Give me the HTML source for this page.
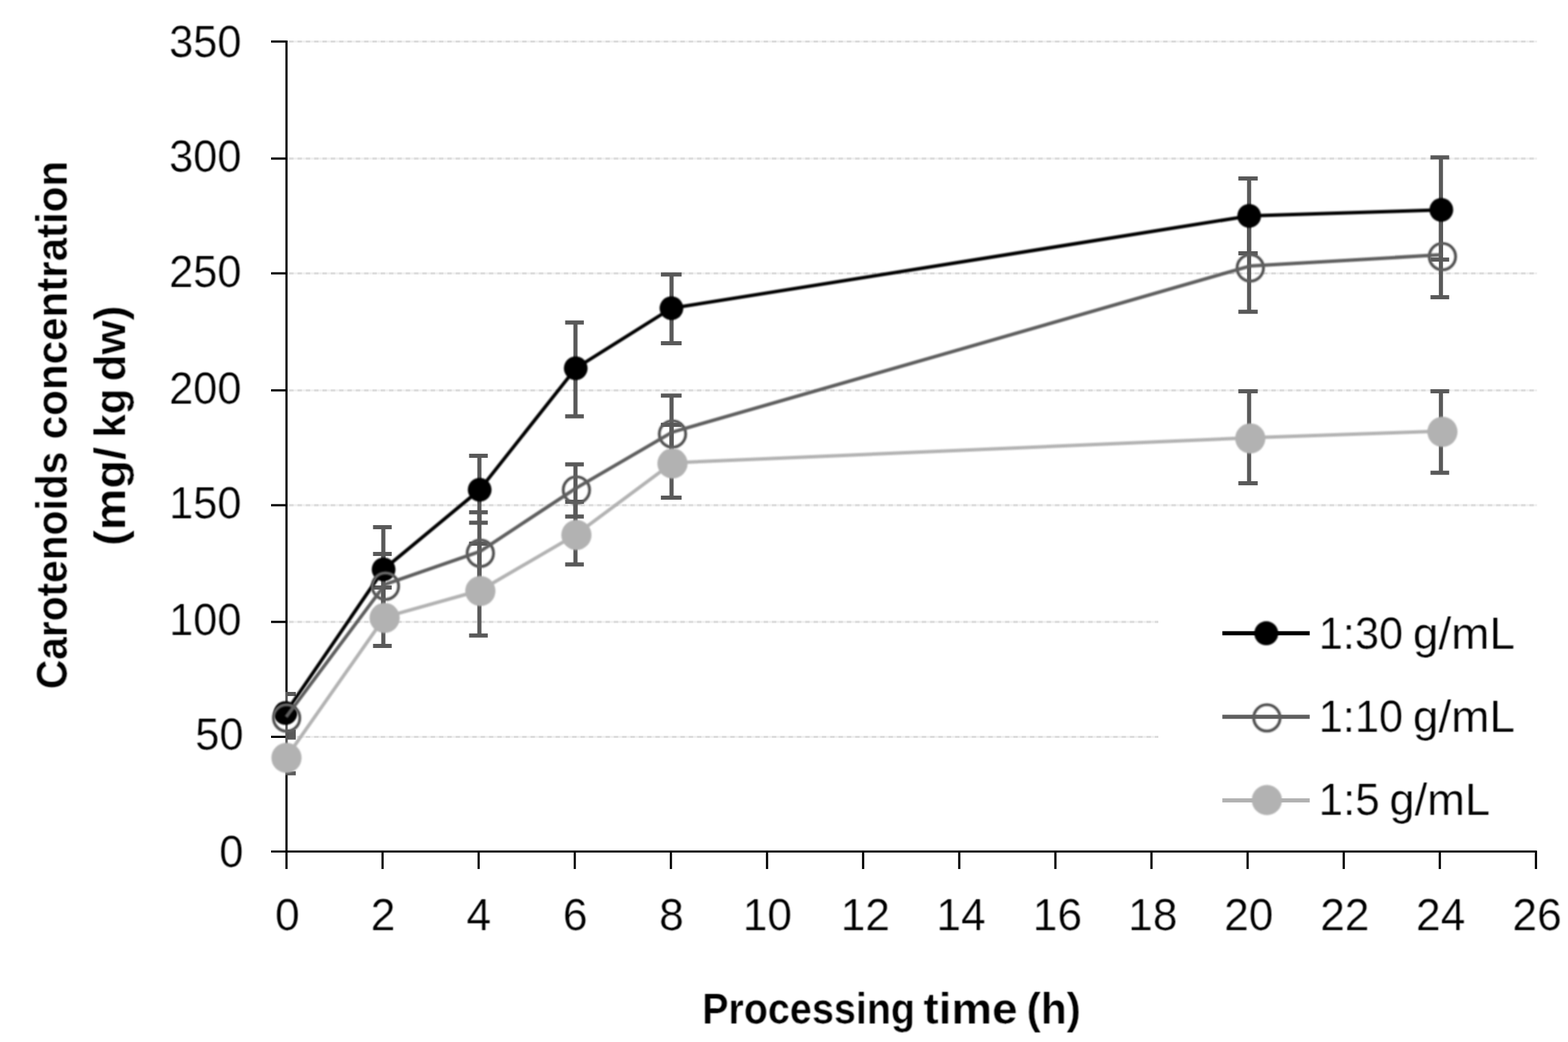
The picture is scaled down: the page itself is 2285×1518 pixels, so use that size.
<!DOCTYPE html>
<html lang="en">
<head>
<meta charset="utf-8">
<title>Carotenoids concentration vs processing time</title>
<style>
html, body { margin: 0; padding: 0; background: #ffffff; }
body { width: 2285px; height: 1518px; overflow: hidden; font-family: "Liberation Sans", sans-serif; }
svg { display: block; }
#chart { width: 2285px; height: 1518px; }
</style>
</head>
<body>
<div id="chart">
<svg width="2285" height="1518" viewBox="0 0 2285 1518">
<rect x="0" y="0" width="2285" height="1518" fill="#ffffff"/>
<defs><filter id="soft" filterUnits="userSpaceOnUse" x="0" y="0" width="2285" height="1518"><feGaussianBlur stdDeviation="1"/></filter><filter id="softtext" x="-5%" y="-10%" width="110%" height="120%"><feConvolveMatrix order="3" kernelMatrix="1 2 1 2 4 2 1 2 1" divisor="16" edgeMode="none" preserveAlpha="false"/></filter></defs>
<g id="grid" fill="none">
<line x1="419.0" y1="60.5" x2="2240.0" y2="60.5" stroke="#f0f0f0" stroke-width="3.0"/>
<line x1="421.5" y1="60.5" x2="2240.0" y2="60.5" stroke="#dbdbdb" stroke-width="3.0" stroke-dasharray="6.2 5.93"/>
<line x1="419.0" y1="231.0" x2="2240.0" y2="231.0" stroke="#f0f0f0" stroke-width="3.0"/>
<line x1="421.5" y1="231.0" x2="2240.0" y2="231.0" stroke="#dbdbdb" stroke-width="3.0" stroke-dasharray="6.2 5.93"/>
<line x1="419.0" y1="398.2" x2="2240.0" y2="398.2" stroke="#f0f0f0" stroke-width="3.0"/>
<line x1="421.5" y1="398.2" x2="2240.0" y2="398.2" stroke="#dbdbdb" stroke-width="3.0" stroke-dasharray="6.2 5.93"/>
<line x1="419.0" y1="568.7" x2="2240.0" y2="568.7" stroke="#f0f0f0" stroke-width="3.0"/>
<line x1="421.5" y1="568.7" x2="2240.0" y2="568.7" stroke="#dbdbdb" stroke-width="3.0" stroke-dasharray="6.2 5.93"/>
<line x1="419.0" y1="736.0" x2="2240.0" y2="736.0" stroke="#f0f0f0" stroke-width="3.0"/>
<line x1="421.5" y1="736.0" x2="2240.0" y2="736.0" stroke="#dbdbdb" stroke-width="3.0" stroke-dasharray="6.2 5.93"/>
<line x1="419.0" y1="906.0" x2="2240.0" y2="906.0" stroke="#f0f0f0" stroke-width="3.0"/>
<line x1="421.5" y1="906.0" x2="2240.0" y2="906.0" stroke="#dbdbdb" stroke-width="3.0" stroke-dasharray="6.2 5.93"/>
<line x1="419.0" y1="1073.4" x2="2240.0" y2="1073.4" stroke="#f0f0f0" stroke-width="3.0"/>
<line x1="421.5" y1="1073.4" x2="2240.0" y2="1073.4" stroke="#dbdbdb" stroke-width="3.0" stroke-dasharray="6.2 5.93"/>
</g>
<clipPath id="plotclip"><rect x="416" y="0" width="1900" height="1300"/></clipPath>
<g id="errorbars" fill="#595959" clip-path="url(#plotclip)">
<rect x="416" y="1008" width="3.1" height="121.5"/>
<rect x="416" y="1008" width="15" height="6"/>
<rect x="416" y="1063" width="15" height="14.5"/>
<rect x="416" y="1123.5" width="15" height="6"/>
<rect x="555.6" y="768.0" width="6.0" height="115.2"/>
<rect x="543.6" y="765.0" width="27.2" height="6.0"/>
<rect x="555.6" y="807.0" width="6.0" height="98.4"/>
<rect x="543.6" y="804.0" width="27.2" height="6.0"/>
<rect x="555.6" y="855.9" width="6.0" height="85.1"/>
<rect x="543.6" y="852.9" width="27.2" height="6.0"/>
<rect x="543.6" y="938.0" width="27.2" height="6.0"/>
<rect x="695.6" y="664.0" width="6.0" height="97.5"/>
<rect x="683.6" y="661.0" width="27.2" height="6.0"/>
<rect x="683.6" y="758.5" width="27.2" height="6.0"/>
<rect x="695.6" y="746.3" width="6.0" height="118.7"/>
<rect x="683.6" y="743.3" width="27.2" height="6.0"/>
<rect x="695.6" y="792.0" width="6.0" height="133.8"/>
<rect x="683.6" y="789.0" width="27.2" height="6.0"/>
<rect x="683.6" y="922.8" width="27.2" height="6.0"/>
<rect x="835.6" y="469.8" width="6.0" height="136.7"/>
<rect x="823.6" y="466.8" width="27.2" height="6.0"/>
<rect x="823.6" y="603.5" width="27.2" height="6.0"/>
<rect x="835.6" y="676.5" width="6.0" height="76.0"/>
<rect x="823.6" y="673.5" width="27.2" height="6.0"/>
<rect x="823.6" y="749.5" width="27.2" height="6.0"/>
<rect x="835.6" y="731.0" width="6.0" height="91.3"/>
<rect x="823.6" y="728.0" width="27.2" height="6.0"/>
<rect x="823.6" y="819.3" width="27.2" height="6.0"/>
<rect x="975.6" y="399.8" width="6.0" height="100.2"/>
<rect x="963.1" y="396.8" width="30.2" height="6.0"/>
<rect x="963.1" y="497.0" width="30.2" height="6.0"/>
<rect x="975.6" y="576.3" width="6.0" height="112.0"/>
<rect x="963.1" y="573.3" width="30.2" height="6.0"/>
<rect x="975.6" y="618.9" width="6.0" height="106.1"/>
<rect x="963.1" y="615.9" width="30.2" height="6.0"/>
<rect x="963.1" y="722.0" width="30.2" height="6.0"/>
<rect x="1817.3" y="260.0" width="6.0" height="109.0"/>
<rect x="1804.6" y="257.0" width="28.2" height="6.0"/>
<rect x="1804.6" y="366.0" width="28.2" height="6.0"/>
<rect x="1817.3" y="325.8" width="6.0" height="128.4"/>
<rect x="1804.6" y="451.2" width="28.2" height="6.0"/>
<rect x="1817.3" y="570.0" width="6.0" height="134.0"/>
<rect x="1804.6" y="567.0" width="28.2" height="6.0"/>
<rect x="1804.6" y="701.0" width="28.2" height="6.0"/>
<rect x="2096.8" y="229.3" width="6.0" height="148.9"/>
<rect x="2084.6" y="226.3" width="27.2" height="6.0"/>
<rect x="2084.6" y="375.2" width="27.2" height="6.0"/>
<rect x="2096.8" y="314.4" width="6.0" height="118.6"/>
<rect x="2084.6" y="430.0" width="27.2" height="6.0"/>
<rect x="2096.8" y="570.0" width="6.0" height="118.7"/>
<rect x="2084.6" y="567.0" width="27.2" height="6.0"/>
<rect x="2084.6" y="685.7" width="27.2" height="6.0"/>
</g>
<g id="axes" stroke="#000000" stroke-width="3.2" fill="none">
<line x1="417.5" y1="59" x2="417.5" y2="1266"/>
<line x1="395" y1="1240.5" x2="2239.7" y2="1240.5"/>
<line x1="395" y1="60.5" x2="417.5" y2="60.5"/>
<line x1="395" y1="231.0" x2="417.5" y2="231.0"/>
<line x1="395" y1="398.2" x2="417.5" y2="398.2"/>
<line x1="395" y1="568.7" x2="417.5" y2="568.7"/>
<line x1="395" y1="736.0" x2="417.5" y2="736.0"/>
<line x1="395" y1="906.0" x2="417.5" y2="906.0"/>
<line x1="395" y1="1073.4" x2="417.5" y2="1073.4"/>
<line x1="557.5" y1="1240.5" x2="557.5" y2="1266"/>
<line x1="697.5" y1="1240.5" x2="697.5" y2="1266"/>
<line x1="837.6" y1="1240.5" x2="837.6" y2="1266"/>
<line x1="977.7" y1="1240.5" x2="977.7" y2="1266"/>
<line x1="1117.8" y1="1240.5" x2="1117.8" y2="1266"/>
<line x1="1257.8" y1="1240.5" x2="1257.8" y2="1266"/>
<line x1="1397.9" y1="1240.5" x2="1397.9" y2="1266"/>
<line x1="1538.0" y1="1240.5" x2="1538.0" y2="1266"/>
<line x1="1678.0" y1="1240.5" x2="1678.0" y2="1266"/>
<line x1="1818.1" y1="1240.5" x2="1818.1" y2="1266"/>
<line x1="1958.2" y1="1240.5" x2="1958.2" y2="1266"/>
<line x1="2098.2" y1="1240.5" x2="2098.2" y2="1266"/>
<line x1="2238.3" y1="1240.5" x2="2238.3" y2="1266"/>
</g>
<g fill="#595959"><rect x="415.9" y="1008" width="3.2" height="121.5"/></g>
<g id="s1" filter="url(#soft)"><polyline points="416.0,1038.8 559.0,829.5 699.0,713.5 839.0,536.5 978.5,449.0 1820.4,314.6 2100.4,305.7" fill="none" stroke="#000000" stroke-width="5.0" stroke-linejoin="round"/>
<circle cx="416.0" cy="1038.8" r="17.3" fill="#000000"/>
<circle cx="559.0" cy="829.5" r="17.3" fill="#000000"/>
<circle cx="699.0" cy="713.5" r="17.3" fill="#000000"/>
<circle cx="839.0" cy="536.5" r="17.3" fill="#000000"/>
<circle cx="978.5" cy="449.0" r="17.3" fill="#000000"/>
<circle cx="1820.4" cy="314.6" r="17.3" fill="#000000"/>
<circle cx="2100.4" cy="305.7" r="17.3" fill="#000000"/>
</g>
<g id="s2" filter="url(#soft)"><polyline points="417.0,1044.5 561.2,851.3 699.5,803.3 839.5,711.1 979.5,629.6 1821.5,387.6 2101.5,371.1" fill="none" stroke="#5f5f5f" stroke-width="5.0" stroke-linejoin="round"/>
<circle cx="417.7" cy="1046.0" r="19.2" fill="none" stroke="#5f5f5f" stroke-width="4.4"/>
<circle cx="561.7" cy="854.0" r="19.2" fill="none" stroke="#5f5f5f" stroke-width="4.4"/>
<circle cx="700.0" cy="806.0" r="19.2" fill="none" stroke="#5f5f5f" stroke-width="4.4"/>
<circle cx="840.0" cy="713.8" r="19.2" fill="none" stroke="#5f5f5f" stroke-width="4.4"/>
<circle cx="980.0" cy="632.3" r="19.2" fill="none" stroke="#5f5f5f" stroke-width="4.4"/>
<circle cx="1822.0" cy="390.3" r="19.2" fill="none" stroke="#5f5f5f" stroke-width="4.4"/>
<circle cx="2102.0" cy="373.8" r="19.2" fill="none" stroke="#5f5f5f" stroke-width="4.4"/>
</g>
<g id="s2core" fill="none" stroke="#5f5f5f" stroke-width="2.0">
<circle cx="417.7" cy="1046.0" r="19.2"/>
<circle cx="561.7" cy="854.0" r="19.2"/>
<circle cx="700.0" cy="806.0" r="19.2"/>
<circle cx="840.0" cy="713.8" r="19.2"/>
<circle cx="980.0" cy="632.3" r="19.2"/>
<circle cx="1822.0" cy="390.3" r="19.2"/>
<circle cx="2102.0" cy="373.8" r="19.2"/>
</g>
<g id="s3" filter="url(#soft)"><polyline points="417.5,1103.0 560.5,899.2 700.0,860.0 840.0,778.3 980.0,674.2 1822.0,637.7 2102.0,628.1" fill="none" stroke="#b2b2b2" stroke-width="5.0" stroke-linejoin="round"/>
<circle cx="417.5" cy="1104.0" r="22.0" fill="#b2b2b2"/>
<circle cx="560.5" cy="900.2" r="22.0" fill="#b2b2b2"/>
<circle cx="700.0" cy="861.0" r="22.0" fill="#b2b2b2"/>
<circle cx="840.0" cy="779.3" r="22.0" fill="#b2b2b2"/>
<circle cx="980.0" cy="675.2" r="22.0" fill="#b2b2b2"/>
<circle cx="1822.0" cy="638.7" r="22.0" fill="#b2b2b2"/>
<circle cx="2102.0" cy="629.1" r="22.0" fill="#b2b2b2"/>
</g>
<g id="legend">
<rect x="1688" y="860" width="597" height="370" fill="#ffffff"/>
<line x1="1781.3" y1="922.6" x2="1908.6" y2="922.6" stroke="#000000" stroke-width="6"/>
<circle filter="url(#soft)" cx="1845.3" cy="922.6" r="17.5" fill="#000000"/>
<line x1="1781.3" y1="1044.3" x2="1908.6" y2="1044.3" stroke="#5f5f5f" stroke-width="6"/>
<circle filter="url(#soft)" cx="1846.2" cy="1045.8" r="19.2" fill="none" stroke="#5f5f5f" stroke-width="4.4"/>
<circle cx="1846.2" cy="1045.8" r="19.2" fill="none" stroke="#5f5f5f" stroke-width="2.0"/>
<line x1="1781.3" y1="1166.0" x2="1908.6" y2="1166.0" stroke="#b2b2b2" stroke-width="6"/>
<circle filter="url(#soft)" cx="1846.2" cy="1165.5" r="22.0" fill="#b2b2b2"/>
</g>
<g id="labels" font-family='"Liberation Sans", sans-serif' fill="#000000">
<text y="82.70" font-size="64.38" stroke="#ffffff" stroke-width="0.20" filter="url(#softtext)"><tspan x="246.41" textLength="105.48" lengthAdjust="spacingAndGlyphs">350</tspan></text>
<text y="250.00" font-size="64.38" stroke="#ffffff" stroke-width="0.20" filter="url(#softtext)"><tspan x="246.41" textLength="105.48" lengthAdjust="spacingAndGlyphs">300</tspan></text>
<text y="417.50" font-size="64.38" stroke="#ffffff" stroke-width="0.20" filter="url(#softtext)"><tspan x="246.40" textLength="105.48" lengthAdjust="spacingAndGlyphs">250</tspan></text>
<text y="587.50" font-size="64.38" stroke="#ffffff" stroke-width="0.20" filter="url(#softtext)"><tspan x="246.40" textLength="105.48" lengthAdjust="spacingAndGlyphs">200</tspan></text>
<text y="755.20" font-size="64.38" stroke="#ffffff" stroke-width="0.20" filter="url(#softtext)"><tspan x="246.40" textLength="105.48" lengthAdjust="spacingAndGlyphs">150</tspan></text>
<text y="925.20" font-size="64.38" stroke="#ffffff" stroke-width="0.20" filter="url(#softtext)"><tspan x="246.40" textLength="105.48" lengthAdjust="spacingAndGlyphs">100</tspan></text>
<text y="1092.40" font-size="64.38" stroke="#ffffff" stroke-width="0.20" filter="url(#softtext)"><tspan x="284.49" textLength="70.39" lengthAdjust="spacingAndGlyphs">50</tspan></text>
<text y="1262.90" font-size="64.38" stroke="#ffffff" stroke-width="0.20" filter="url(#softtext)"><tspan x="319.58" textLength="35.32" lengthAdjust="spacingAndGlyphs">0</tspan></text>
<text y="1354.70" font-size="64.38" stroke="#ffffff" stroke-width="0.20" filter="url(#softtext)"><tspan x="400.82" textLength="36.04" lengthAdjust="spacingAndGlyphs">0</tspan></text>
<text y="1354.70" font-size="64.38" stroke="#ffffff" stroke-width="0.20" filter="url(#softtext)"><tspan x="540.35" textLength="36.05" lengthAdjust="spacingAndGlyphs">2</tspan></text>
<text y="1354.70" font-size="64.38" stroke="#ffffff" stroke-width="0.20" filter="url(#softtext)"><tspan x="679.69" textLength="36.02" lengthAdjust="spacingAndGlyphs">4</tspan></text>
<text y="1354.70" font-size="64.38" stroke="#ffffff" stroke-width="0.20" filter="url(#softtext)"><tspan x="820.19" textLength="36.05" lengthAdjust="spacingAndGlyphs">6</tspan></text>
<text y="1354.70" font-size="64.38" stroke="#ffffff" stroke-width="0.20" filter="url(#softtext)"><tspan x="960.52" textLength="36.04" lengthAdjust="spacingAndGlyphs">8</tspan></text>
<text y="1354.70" font-size="64.38" stroke="#ffffff" stroke-width="0.20" filter="url(#softtext)"><tspan x="1082.43" textLength="71.83" lengthAdjust="spacingAndGlyphs">10</tspan></text>
<text y="1354.70" font-size="64.38" stroke="#ffffff" stroke-width="0.20" filter="url(#softtext)"><tspan x="1225.15" textLength="71.84" lengthAdjust="spacingAndGlyphs">12</tspan></text>
<text y="1354.70" font-size="64.38" stroke="#ffffff" stroke-width="0.20" filter="url(#softtext)"><tspan x="1364.51" textLength="71.83" lengthAdjust="spacingAndGlyphs">14</tspan></text>
<text y="1354.70" font-size="64.38" stroke="#ffffff" stroke-width="0.20" filter="url(#softtext)"><tspan x="1504.99" textLength="71.84" lengthAdjust="spacingAndGlyphs">16</tspan></text>
<text y="1354.70" font-size="64.38" stroke="#ffffff" stroke-width="0.20" filter="url(#softtext)"><tspan x="1643.99" textLength="71.84" lengthAdjust="spacingAndGlyphs">18</tspan></text>
<text y="1354.70" font-size="64.38" stroke="#ffffff" stroke-width="0.20" filter="url(#softtext)"><tspan x="1783.94" textLength="71.83" lengthAdjust="spacingAndGlyphs">20</tspan></text>
<text y="1354.70" font-size="64.38" stroke="#ffffff" stroke-width="0.20" filter="url(#softtext)"><tspan x="1923.96" textLength="71.83" lengthAdjust="spacingAndGlyphs">22</tspan></text>
<text y="1354.70" font-size="64.38" stroke="#ffffff" stroke-width="0.20" filter="url(#softtext)"><tspan x="2063.52" textLength="71.83" lengthAdjust="spacingAndGlyphs">24</tspan></text>
<text y="1354.70" font-size="64.38" stroke="#ffffff" stroke-width="0.20" filter="url(#softtext)"><tspan x="2204.00" textLength="71.83" lengthAdjust="spacingAndGlyphs">26</tspan></text>
<text y="944.50" font-size="64.38" stroke="#ffffff" stroke-width="0.20" filter="url(#softtext)"><tspan x="1921.66" textLength="123.13" lengthAdjust="spacingAndGlyphs">1:30</tspan> <tspan x="2058.92" textLength="148.97" lengthAdjust="spacingAndGlyphs">g/mL</tspan></text>
<text y="1065.70" font-size="64.38" stroke="#ffffff" stroke-width="0.20" filter="url(#softtext)"><tspan x="1921.66" textLength="123.13" lengthAdjust="spacingAndGlyphs">1:10</tspan> <tspan x="2058.92" textLength="148.97" lengthAdjust="spacingAndGlyphs">g/mL</tspan></text>
<text y="1187.00" font-size="64.38" stroke="#ffffff" stroke-width="0.20" filter="url(#softtext)"><tspan x="1921.60" textLength="89.04" lengthAdjust="spacingAndGlyphs">1:5</tspan> <tspan x="2024.76" textLength="146.80" lengthAdjust="spacingAndGlyphs">g/mL</tspan></text>
<text y="1490.52" font-size="63.35" font-weight="bold" stroke="#ffffff" stroke-width="0.24" filter="url(#softtext)"><tspan x="1023.14" textLength="310.37" lengthAdjust="spacingAndGlyphs">Processing</tspan> <tspan x="1345.81" textLength="136.98" lengthAdjust="spacingAndGlyphs">time</tspan> <tspan x="1496.10" textLength="78.99" lengthAdjust="spacingAndGlyphs">(h)</tspan></text>
<text transform="translate(97.12 0) rotate(-90)" y="0.00" font-size="63.35" font-weight="bold" stroke="#ffffff" stroke-width="0.24" filter="url(#softtext)"><tspan x="-1003.99" textLength="345.96" lengthAdjust="spacingAndGlyphs">Carotenoids</tspan> <tspan x="-639.97" textLength="405.82" lengthAdjust="spacingAndGlyphs">concentration</tspan></text>
<text transform="translate(182.12 0) rotate(-90)" y="0.00" font-size="63.35" font-weight="bold" stroke="#ffffff" stroke-width="0.24" filter="url(#softtext)"><tspan x="-795.19" textLength="144.05" lengthAdjust="spacingAndGlyphs">(mg/</tspan> <tspan x="-637.60" textLength="71.45" lengthAdjust="spacingAndGlyphs">kg</tspan> <tspan x="-555.48" textLength="110.17" lengthAdjust="spacingAndGlyphs">dw)</tspan></text>
</g>
</svg>
</div>
</body>
</html>
